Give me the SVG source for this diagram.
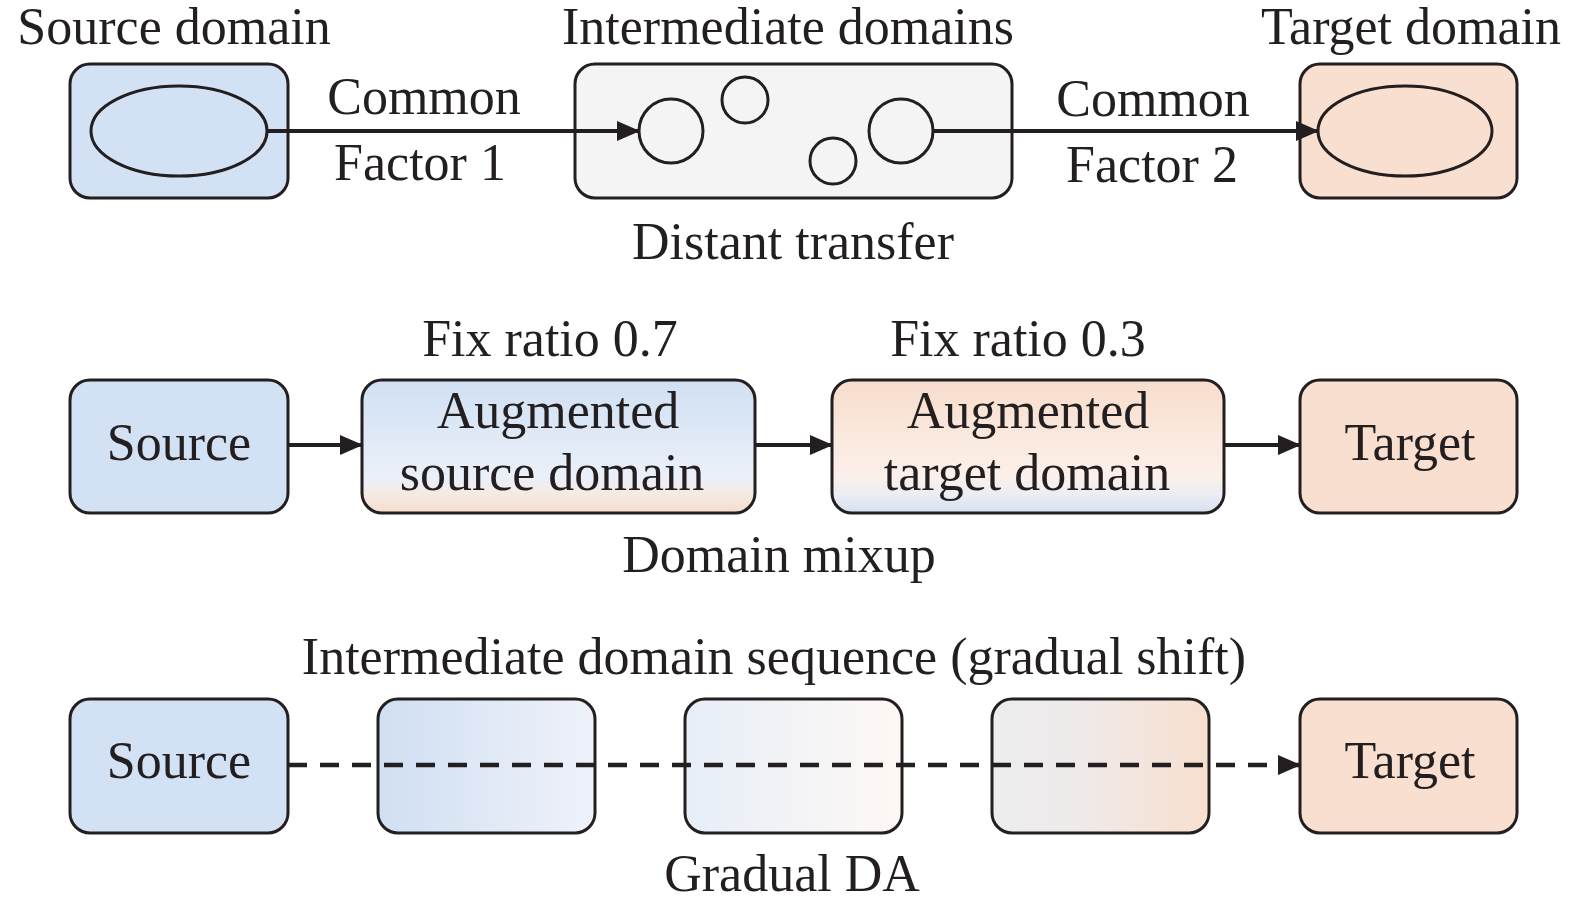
<svg xmlns="http://www.w3.org/2000/svg" width="1575" height="911" viewBox="0 0 1575 911">
<style>
text{font-family:"Liberation Serif","Times New Roman",serif;font-size:52px;fill:#231f20;text-anchor:middle}
.box{stroke:#231f20;stroke-width:3}
.shape{fill:none;stroke:#231f20;stroke-width:3}
.conn{stroke:#231f20;stroke-width:4;fill:none}
.dash{stroke-width:4.5;stroke-dasharray:19 13}
</style>
<defs>
<marker id="arr" markerWidth="24" markerHeight="20" refX="22" refY="10" orient="auto" markerUnits="userSpaceOnUse">
<path d="M0,0 L23,10 L0,20 Z" fill="#231f20"/>
</marker>
<linearGradient id="gAugS" x1="0" y1="0" x2="0" y2="1">
<stop offset="0" stop-color="#d0e0f3"/>
<stop offset="0.72" stop-color="#eaf0f9"/>
<stop offset="0.86" stop-color="#f6eae3"/>
<stop offset="1" stop-color="#f5ddcd"/>
</linearGradient>
<linearGradient id="gAugT" x1="0" y1="0" x2="0" y2="1">
<stop offset="0" stop-color="#f7ddcc"/>
<stop offset="0.72" stop-color="#fcf0ea"/>
<stop offset="0.86" stop-color="#ecedf3"/>
<stop offset="1" stop-color="#d3e1f2"/>
</linearGradient>
<linearGradient id="gI1" x1="0" y1="0" x2="1" y2="0">
<stop offset="0" stop-color="#d0dff2"/>
<stop offset="1" stop-color="#eff2fa"/>
</linearGradient>
<linearGradient id="gI2" x1="0" y1="0" x2="1" y2="0">
<stop offset="0" stop-color="#e7eef8"/>
<stop offset="1" stop-color="#fef8f4"/>
</linearGradient>
<linearGradient id="gI3" x1="0" y1="0" x2="1" y2="0">
<stop offset="0" stop-color="#ededed"/>
<stop offset="0.4" stop-color="#eeeaea"/>
<stop offset="1" stop-color="#f8dfcf"/>
</linearGradient>
</defs>

<!-- Row 1 -->
<text x="174" y="44">Source domain</text>
<text x="788" y="44">Intermediate domains</text>
<text x="1411" y="44">Target domain</text>

<g id="source-domain">
<rect class="box" x="70" y="64" width="218" height="134" rx="20" fill="#d2e1f3"/>
<ellipse class="shape" cx="179" cy="131" rx="88" ry="45"/>
</g>
<g id="intermediate-domains">
<rect class="box" x="575" y="64" width="437" height="134" rx="20" fill="#f4f4f4"/>
<circle class="shape" cx="671" cy="131" r="32"/>
<circle class="shape" cx="745" cy="100" r="23"/>
<circle class="shape" cx="833" cy="161" r="23"/>
<circle class="shape" cx="901" cy="131" r="32"/>
</g>
<g id="target-domain">
<rect class="box" x="1300" y="64" width="217" height="134" rx="20" fill="#f8dfcf"/>
<ellipse class="shape" cx="1405" cy="131" rx="87" ry="45"/>
</g>

<text x="424" y="114">Common</text>
<text x="420" y="180">Factor 1</text>
<text x="1153" y="116">Common</text>
<text x="1152" y="182">Factor 2</text>
<text x="793" y="259">Distant transfer</text>

<!-- Row 2 -->
<text x="550" y="356">Fix ratio 0.7</text>
<text x="1018" y="356">Fix ratio 0.3</text>

<g id="source-2">
<rect class="box" x="70" y="380" width="218" height="133" rx="20" fill="#d2e1f3"/>
<text x="179" y="460">Source</text>
</g>
<g id="aug-source">
<rect class="box" x="362" y="380" width="393" height="133" rx="20" fill="url(#gAugS)"/>
<text x="558" y="428">Augmented</text>
<text x="552" y="490">source domain</text>
</g>
<g id="aug-target">
<rect class="box" x="832" y="380" width="392" height="133" rx="20" fill="url(#gAugT)"/>
<text x="1028" y="428">Augmented</text>
<text x="1027" y="490">target domain</text>
</g>
<g id="target-2">
<rect class="box" x="1300" y="380" width="217" height="133" rx="20" fill="#f8dfcf"/>
<text x="1410" y="460">Target</text>
</g>
<text x="779" y="572">Domain mixup</text>

<!-- Row 3 -->
<text x="774" y="674">Intermediate domain sequence (gradual shift)</text>

<g id="source-3">
<rect class="box" x="70" y="699" width="218" height="134" rx="20" fill="#d2e1f3"/>
<text x="179" y="778">Source</text>
</g>
<g id="inter-1">
<rect class="box" x="378" y="699" width="217" height="134" rx="20" fill="url(#gI1)"/>
</g>
<g id="inter-2">
<rect class="box" x="685" y="699" width="217" height="134" rx="20" fill="url(#gI2)"/>
</g>
<g id="inter-3">
<rect class="box" x="992" y="699" width="217" height="134" rx="20" fill="url(#gI3)"/>
</g>
<g id="target-3">
<rect class="box" x="1300" y="699" width="217" height="134" rx="20" fill="#f8dfcf"/>
<text x="1410" y="778">Target</text>
</g>
<text x="792" y="891">Gradual DA</text>

<g id="connectors">
<line class="conn" x1="267" y1="131" x2="639" y2="131" marker-end="url(#arr)"/>
<line class="conn" x1="933" y1="131" x2="1318" y2="131" marker-end="url(#arr)"/>
<line class="conn" x1="288" y1="445" x2="362" y2="445" marker-end="url(#arr)"/>
<line class="conn" x1="755" y1="445" x2="832" y2="445" marker-end="url(#arr)"/>
<line class="conn" x1="1224" y1="445" x2="1300" y2="445" marker-end="url(#arr)"/>
<line class="conn dash" x1="288" y1="765" x2="1300" y2="765" marker-end="url(#arr)"/>
</g>
</svg>
